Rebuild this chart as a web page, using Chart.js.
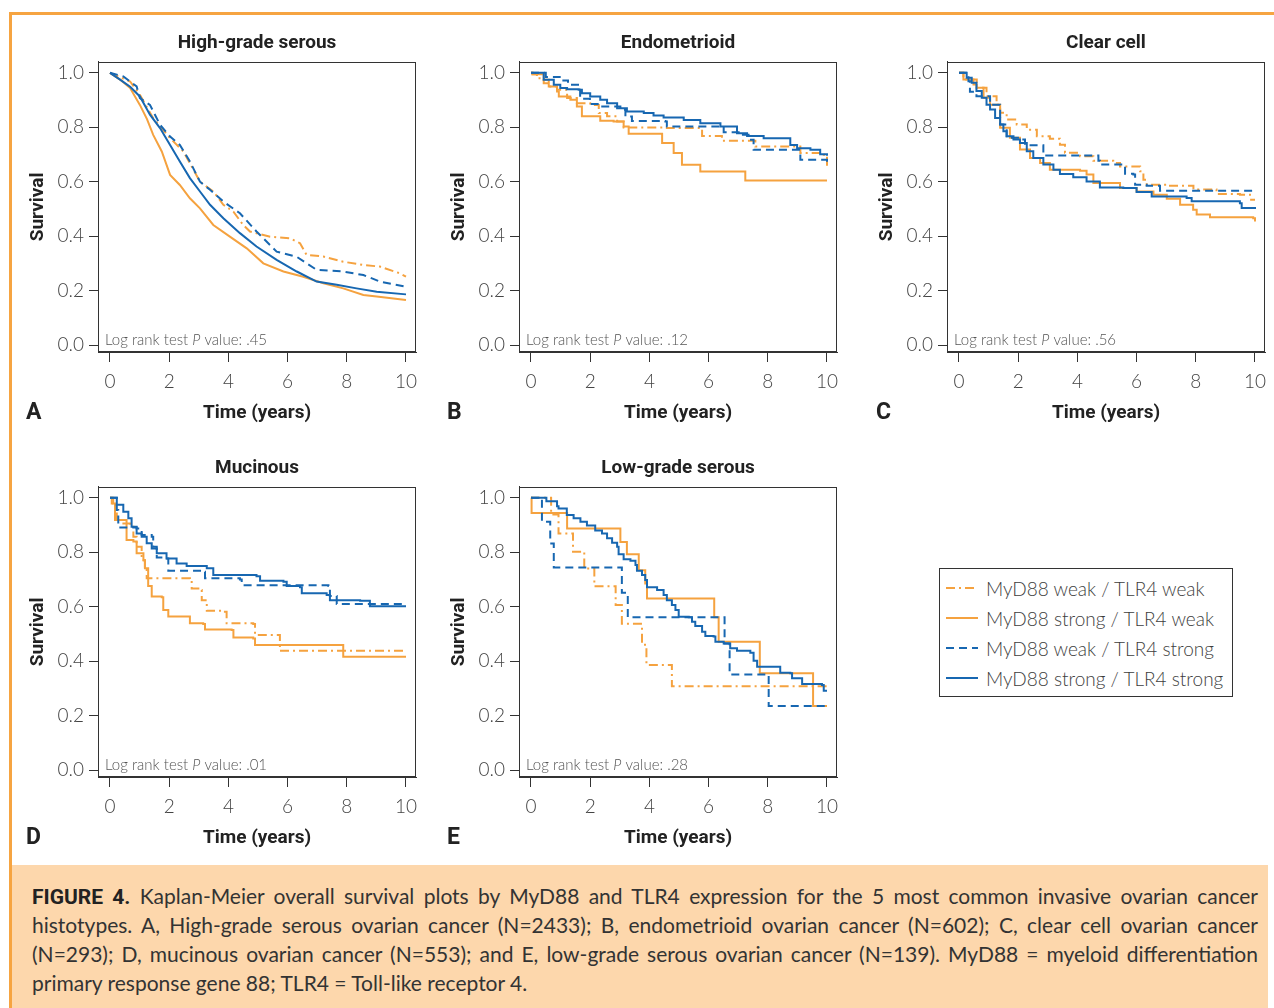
<!DOCTYPE html>
<html>
<head>
<meta charset="utf-8">
<script src="https://cdn.jsdelivr.net/npm/chart.js@4.4.0/dist/chart.umd.min.js"></script>
<style>
  body { margin: 0; background: #fff; }
  #page { position: relative; width: 1274px; height: 1008px; overflow: hidden; font-family: Lato, sans-serif; }
  .frame { position: absolute; left: 9px; top: 12px; width: 1300px; height: 1000px;
           border-top: 3px solid #F6A441; border-left: 3px solid #F6A441; }
  .panel { position: absolute; width: 400px; height: 400px; }
  .letter { position: absolute; font: bold 23px Roboto, sans-serif; color: #222; line-height: 23px; }
  #legend { position: absolute; left: 939px; top: 568px; width: 294px; height: 129px;
            border: 1px solid #333; box-sizing: border-box; padding-top: 4px; }
  .row { height: 30px; display: flex; align-items: center; color: #3d3d3d; font: 300 19px Lato, sans-serif; }
  .row svg { margin-left: 6px; margin-right: 8px; }
  #caption { position: absolute; left: 12px; top: 865px; width: 1256px; height: 143px; background: #FDD7AC; }
  #caption .line { position: absolute; left: 20px; width: 1226px; white-space: nowrap;
                   font: 400 21px Lato, sans-serif; color: #333; text-align: justify; text-align-last: justify; line-height: 29px; }
  #caption .line.last { text-align-last: left; }
  #caption b { font-family: Roboto, sans-serif; font-weight: bold; color: #222; }
</style>
</head>
<body>
<div id="page">
  <div class="frame"></div>
  <div class="panel" style="left:20px;top:25px"><canvas id="cA" width="400" height="400"></canvas></div>
  <div class="panel" style="left:441px;top:25px"><canvas id="cB" width="400" height="400"></canvas></div>
  <div class="panel" style="left:869px;top:25px"><canvas id="cC" width="400" height="400"></canvas></div>
  <div class="panel" style="left:20px;top:450px"><canvas id="cD" width="400" height="400"></canvas></div>
  <div class="panel" style="left:441px;top:450px"><canvas id="cE" width="400" height="400"></canvas></div>
  <div class="letter" style="left:26px;top:400px">A</div>
  <div class="letter" style="left:447px;top:400px">B</div>
  <div class="letter" style="left:876px;top:400px">C</div>
  <div class="letter" style="left:26px;top:825px">D</div>
  <div class="letter" style="left:447px;top:825px">E</div>
  <div id="legend"></div>
  <div id="caption">
    <div class="line" style="top:16px"><b>FIGURE 4.</b> Kaplan-Meier overall survival plots by MyD88 and TLR4 expression for the 5 most common invasive ovarian cancer</div>
    <div class="line" style="top:45px">histotypes. A, High-grade serous ovarian cancer (N=2433); B, endometrioid ovarian cancer (N=602); C, clear cell ovarian cancer</div>
    <div class="line" style="top:74px">(N=293); D, mucinous ovarian cancer (N=553); and E, low-grade serous ovarian cancer (N=139). MyD88 = myeloid differentiation</div>
    <div class="line last" style="top:103px">primary response gene 88; TLR4 = Toll-like receptor 4.</div>
  </div>
</div>
<script>
// series order everywhere: weak/weak, strong/weak, weak/strong, strong/strong
const seriesNames = ['MyD88 weak / TLR4 weak', 'MyD88 strong / TLR4 weak', 'MyD88 weak / TLR4 strong', 'MyD88 strong / TLR4 strong'];
const panelTitles = ['High-grade serous', 'Endometrioid', 'Clear cell', 'Mucinous', 'Low-grade serous'];
const pValues = ['.45', '.12', '.56', '.01', '.28'];
const xTicks = [0, 2, 4, 6, 8, 10];
const yTicks = [0, 0.2, 0.4, 0.6, 0.8, 1.0];

// [time (years), survival]
const hgsWeakWeak = [[0,1],[0.68,0.968],[1.01,0.919],[1.46,0.833],[2.03,0.76],[2.48,0.711],[3.04,0.6],[3.49,0.564],[3.83,0.515],[4.17,0.49],[4.5,0.441],[4.73,0.417],[5.41,0.398],[6.08,0.392],[6.42,0.374],[6.64,0.331],[7.21,0.325],[7.88,0.306],[8.56,0.294],[9.12,0.288],[9.8,0.263],[10,0.251]];
const hgsStrongWeak = [[0,1],[0.34,0.975],[0.68,0.944],[1.01,0.882],[1.25,0.83],[1.46,0.772],[1.75,0.711],[2.03,0.625],[2.36,0.588],[2.7,0.539],[3.04,0.502],[3.49,0.441],[4.05,0.398],[4.62,0.355],[5.18,0.3],[5.86,0.27],[6.53,0.251],[7.21,0.227],[7.88,0.208],[8.56,0.184],[9.01,0.178],[10,0.165]];
const hgsWeakStrong = [[0,1],[0.45,0.987],[0.9,0.95],[1.01,0.907],[1.35,0.882],[1.69,0.809],[2.03,0.766],[2.36,0.735],[2.7,0.674],[3.04,0.6],[3.38,0.57],[3.83,0.527],[4.39,0.484],[4.95,0.417],[5.63,0.343],[6.31,0.324],[6.98,0.276],[7.88,0.27],[8.56,0.257],[9.12,0.233],[10,0.214]];
const hgsStrongStrong = [[0,1],[0.34,0.975],[0.68,0.949],[1.01,0.913],[1.35,0.846],[1.69,0.797],[2.03,0.735],[2.36,0.674],[2.7,0.613],[3.04,0.564],[3.38,0.515],[3.83,0.466],[4.39,0.411],[4.95,0.362],[5.63,0.313],[6.31,0.27],[6.98,0.233],[7.66,0.221],[8.33,0.208],[9.01,0.196],[10,0.186]];

const endoWeakWeak = [[0,1],[0.05,0.995],[0.2,0.98],[0.43,0.962],[0.65,0.95],[0.88,0.938],[1.22,0.907],[1.55,0.888],[2.0,0.882],[2.29,0.852],[2.57,0.84],[2.91,0.821],[3.13,0.799],[4.59,0.797],[5.78,0.768],[6.45,0.75],[7.58,0.729],[9.1,0.705],[9.89,0.699],[10,0.65]];
const endoStrongWeak = [[0,1],[0.05,0.995],[0.43,0.974],[0.6,0.95],[0.88,0.931],[0.94,0.913],[1.33,0.901],[1.55,0.876],[1.72,0.84],[2.34,0.824],[2.79,0.821],[3.13,0.803],[3.3,0.776],[4.43,0.742],[4.82,0.705],[5.1,0.662],[5.72,0.637],[7.24,0.604],[10,0.604]];
const endoWeakStrong = [[0,1],[0.5,0.985],[0.97,0.972],[1.25,0.956],[1.66,0.905],[1.99,0.885],[2.34,0.876],[3.02,0.864],[3.19,0.839],[3.41,0.823],[4.54,0.821],[4.59,0.803],[6.51,0.782],[7.07,0.772],[7.35,0.754],[7.52,0.717],[9.1,0.681],[10,0.658]];
const endoStrongStrong = [[0,1],[0.43,0.974],[0.77,0.956],[0.99,0.944],[1.22,0.94],[1.61,0.938],[1.72,0.925],[2.0,0.913],[2.34,0.901],[2.57,0.888],[2.91,0.87],[3.24,0.858],[3.81,0.852],[4.14,0.843],[4.48,0.836],[5.16,0.827],[5.72,0.815],[6.4,0.803],[6.96,0.778],[7.3,0.768],[7.86,0.76],[8.76,0.735],[8.99,0.723],[9.44,0.717],[9.77,0.701],[10,0.695]];

const ccWeakWeak = [[0,1],[0.15,0.975],[0.6,0.945],[0.93,0.914],[1.27,0.883],[1.39,0.853],[1.61,0.828],[1.95,0.81],[2.29,0.791],[2.63,0.767],[3.07,0.758],[3.41,0.736],[3.58,0.706],[4.09,0.693],[4.54,0.677],[5.21,0.669],[5.44,0.656],[6.12,0.638],[6.23,0.607],[6.34,0.589],[7.02,0.585],[7.92,0.571],[8.7,0.555],[9.49,0.552],[9.83,0.534],[10,0.534]];
const ccStrongWeak = [[0,1],[0.15,0.975],[0.49,0.957],[0.6,0.945],[0.83,0.908],[1.05,0.883],[1.39,0.798],[1.72,0.761],[2.06,0.718],[2.4,0.687],[2.74,0.669],[3.07,0.644],[4.09,0.64],[4.31,0.626],[4.54,0.595],[5.44,0.577],[6.0,0.564],[6.57,0.552],[7.02,0.537],[7.47,0.515],[7.91,0.497],[8.03,0.479],[8.48,0.469],[9.94,0.466],[10,0.454]];
const ccWeakStrong = [[0,1],[0.32,0.969],[0.37,0.93],[0.59,0.914],[1.05,0.883],[1.39,0.81],[1.61,0.761],[2.06,0.755],[2.23,0.734],[2.85,0.696],[4.2,0.696],[4.71,0.677],[4.76,0.663],[5.61,0.629],[5.89,0.626],[5.95,0.589],[6.34,0.585],[6.79,0.567],[10,0.567]];
const ccStrongStrong = [[0,1],[0.26,0.982],[0.43,0.963],[0.59,0.933],[0.77,0.908],[0.93,0.883],[1.05,0.865],[1.22,0.834],[1.39,0.81],[1.5,0.785],[1.61,0.767],[1.84,0.755],[2.06,0.742],[2.29,0.712],[2.51,0.687],[2.85,0.663],[3.19,0.644],[3.41,0.628],[3.86,0.616],[4.31,0.601],[4.76,0.579],[5.55,0.577],[6.0,0.562],[6.51,0.546],[7.69,0.54],[7.86,0.528],[9.49,0.521],[9.55,0.503],[10,0.5]];

const mucWeakWeak = [[0,1],[0.06,0.979],[0.17,0.942],[0.23,0.918],[0.39,0.906],[0.68,0.894],[0.79,0.857],[0.9,0.82],[1.07,0.771],[1.18,0.747],[1.24,0.704],[2.7,0.7],[2.76,0.667],[3.04,0.661],[3.1,0.624],[3.27,0.585],[3.83,0.581],[3.94,0.539],[4.84,0.536],[4.9,0.496],[5.74,0.438],[10,0.438]];
const mucStrongWeak = [[0,1],[0.11,0.979],[0.17,0.918],[0.56,0.845],[0.79,0.839],[0.9,0.796],[1.13,0.771],[1.18,0.741],[1.29,0.676],[1.41,0.637],[1.75,0.635],[1.8,0.588],[1.97,0.564],[2.7,0.539],[3.15,0.536],[3.21,0.516],[4.11,0.514],[4.17,0.487],[4.84,0.483],[4.9,0.459],[7.88,0.416],[10,0.416]];
const mucWeakStrong = [[0,1],[0.23,0.955],[0.28,0.891],[0.9,0.887],[1.07,0.863],[1.41,0.857],[1.46,0.82],[1.58,0.781],[1.86,0.777],[1.97,0.732],[3.15,0.728],[3.21,0.704],[4.39,0.7],[4.45,0.679],[7.38,0.676],[7.43,0.639],[7.66,0.61],[10,0.61]];
const mucStrongStrong = [[0,1],[0.23,0.974],[0.45,0.949],[0.62,0.925],[0.73,0.894],[0.9,0.869],[1.07,0.857],[1.24,0.833],[1.41,0.814],[1.58,0.796],[1.91,0.777],[2.25,0.759],[2.59,0.749],[3.27,0.741],[3.49,0.716],[4.95,0.712],[5.07,0.695],[5.86,0.692],[5.97,0.676],[6.42,0.671],[6.48,0.649],[7.32,0.643],[7.43,0.624],[8.45,0.622],[8.78,0.602],[10,0.602]];

const lgsWeakWeak = [[0,1],[0.68,0.939],[0.93,0.869],[1.42,0.802],[1.8,0.74],[2.14,0.675],[2.86,0.606],[3.07,0.537],[3.75,0.46],[3.9,0.386],[4.76,0.308],[10,0.308]];
const lgsStrongWeak = [[0,1],[0.02,0.944],[1.22,0.887],[3.02,0.838],[3.24,0.793],[3.64,0.734],[3.86,0.685],[3.92,0.63],[6.19,0.561],[6.34,0.471],[7.73,0.355],[9.53,0.235],[10,0.235]];
const lgsWeakStrong = [[0,1],[0.37,0.912],[0.65,0.832],[0.77,0.744],[3.07,0.651],[3.27,0.561],[6.54,0.465],[6.71,0.351],[8.03,0.235],[10,0.235]];
const lgsStrongStrong = [[0,1],[0.52,0.987],[0.88,0.969],[0.93,0.961],[1.21,0.937],[1.44,0.925],[1.67,0.912],[1.89,0.898],[2.17,0.88],[2.4,0.869],[2.57,0.851],[2.74,0.835],[2.91,0.82],[2.96,0.793],[3.13,0.774],[3.36,0.769],[3.53,0.753],[3.58,0.732],[3.75,0.716],[3.86,0.698],[3.92,0.671],[4.26,0.661],[4.48,0.643],[4.59,0.624],[4.76,0.606],[4.88,0.588],[4.99,0.563],[5.33,0.561],[5.44,0.545],[5.55,0.529],[5.78,0.508],[5.89,0.492],[6.17,0.49],[6.23,0.471],[6.51,0.465],[6.73,0.447],[6.96,0.438],[7.41,0.431],[7.52,0.401],[7.64,0.379],[8.42,0.357],[8.76,0.355],[8.82,0.337],[9.16,0.316],[9.83,0.312],[9.89,0.291],[10,0.291]];

const orange = '#F5A23F';
const blue = '#1767B1';
const seriesStyle = [
  {color: orange, dash: [9, 4, 2, 4]},
  {color: orange, dash: []},
  {color: blue, dash: [8, 5]},
  {color: blue, dash: []}
];
const drawOrder = [3, 2, 1, 0];

const tickFont = {family: 'Lato', size: 19, weight: '300'};
const titleFont = {family: 'Roboto', size: 19, weight: 'bold'};

// box round the plot area plus the log rank note
const boxAndNote = {
  id: 'boxAndNote',
  afterDatasetsDraw(chart, args, opts) {
    const {ctx, chartArea: a} = chart;
    ctx.save();
    ctx.strokeStyle = '#333';
    ctx.lineWidth = 1;
    ctx.strokeRect(Math.round(a.left) + 0.5, Math.round(a.top) + 0.5, Math.round(a.width) - 1, Math.round(a.height) - 1);
    ctx.fillStyle = '#555';
    ctx.textBaseline = 'alphabetic';
    let x = a.left + 7;
    const y = a.bottom - 7;
    const parts = [['Log rank test ', '300 15px Lato'], ['P', 'italic 300 15px Lato'], [' value: ' + opts.p, '300 15px Lato']];
    for (const [txt, font] of parts) {
      ctx.font = font;
      ctx.fillText(txt, x, y);
      x += ctx.measureText(txt).width;
    }
    ctx.restore();
  }
};

function makePanel(id, title, p, series, stepped) {
  return new Chart(document.getElementById(id), {
    type: 'line',
    data: {
      datasets: series.map((pairs, i) => ({
        label: seriesNames[i],
        data: pairs.map(([x, y]) => ({x, y})),
        borderColor: seriesStyle[i].color,
        borderDash: seriesStyle[i].dash,
        borderWidth: 2,
        pointRadius: 0,
        stepped: stepped ? 'before' : false,
        tension: 0,
        fill: false,
        order: drawOrder[i]
      }))
    },
    options: {
      responsive: false,
      animation: false,
      devicePixelRatio: 1,
      layout: {padding: {left: 0, right: 4, top: 0, bottom: 0}},
      plugins: {
        legend: {display: false},
        tooltip: {enabled: false},
        title: {display: true, text: title, fullSize: false, color: '#222', font: titleFont, padding: {top: 7, bottom: 7}},
        boxAndNote: {p}
      },
      scales: {
        x: {
          type: 'linear', min: -0.405, max: 10.338,
          afterBuildTicks: s => { s.ticks = xTicks.map(v => ({value: v})); },
          afterFit: s => { s.height = 73; s.paddingLeft = 0; s.paddingRight = 0; },
          grid: {drawOnChartArea: false, drawTicks: true, tickLength: 10, color: '#333'},
          border: {display: true, color: '#333'},
          ticks: {color: '#444', font: tickFont, padding: 8, maxRotation: 0, callback: v => String(v)},
          title: {display: true, text: 'Time (years)', color: '#222', font: titleFont, padding: {top: 0, bottom: 0}}
        },
        y: {
          type: 'linear', min: -0.0257, max: 1.0404,
          afterBuildTicks: s => { s.ticks = yTicks.map(v => ({value: v})); },
          afterFit: s => { s.width = 78; s.paddingTop = 0; s.paddingBottom = 0; },
          grid: {drawOnChartArea: false, drawTicks: true, tickLength: 9, color: '#333'},
          border: {display: true, color: '#333'},
          ticks: {color: '#444', font: tickFont, padding: 5, callback: v => v.toFixed(1)},
          title: {display: true, text: 'Survival', color: '#222', font: titleFont, padding: {top: 7, bottom: 0}}
        }
      }
    },
    plugins: [boxAndNote]
  });
}

makePanel('cA', panelTitles[0], pValues[0], [hgsWeakWeak, hgsStrongWeak, hgsWeakStrong, hgsStrongStrong], false);
makePanel('cB', panelTitles[1], pValues[1], [endoWeakWeak, endoStrongWeak, endoWeakStrong, endoStrongStrong], true);
makePanel('cC', panelTitles[2], pValues[2], [ccWeakWeak, ccStrongWeak, ccWeakStrong, ccStrongStrong], true);
makePanel('cD', panelTitles[3], pValues[3], [mucWeakWeak, mucStrongWeak, mucWeakStrong, mucStrongStrong], true);
makePanel('cE', panelTitles[4], pValues[4], [lgsWeakWeak, lgsStrongWeak, lgsWeakStrong, lgsStrongStrong], true);

// legend in the empty sixth slot
const legend = document.getElementById('legend');
seriesNames.forEach((name, i) => {
  const row = document.createElement('div');
  row.className = 'row';
  const dash = seriesStyle[i].dash.join(' ');
  row.innerHTML = '<svg width="32" height="10"><line x1="0" y1="5" x2="32" y2="5" stroke="' + seriesStyle[i].color +
    '" stroke-width="2" stroke-dasharray="' + (dash || 'none') + '"/></svg><span>' + name + '</span>';
  legend.appendChild(row);
});
</script>
</body>
</html>
